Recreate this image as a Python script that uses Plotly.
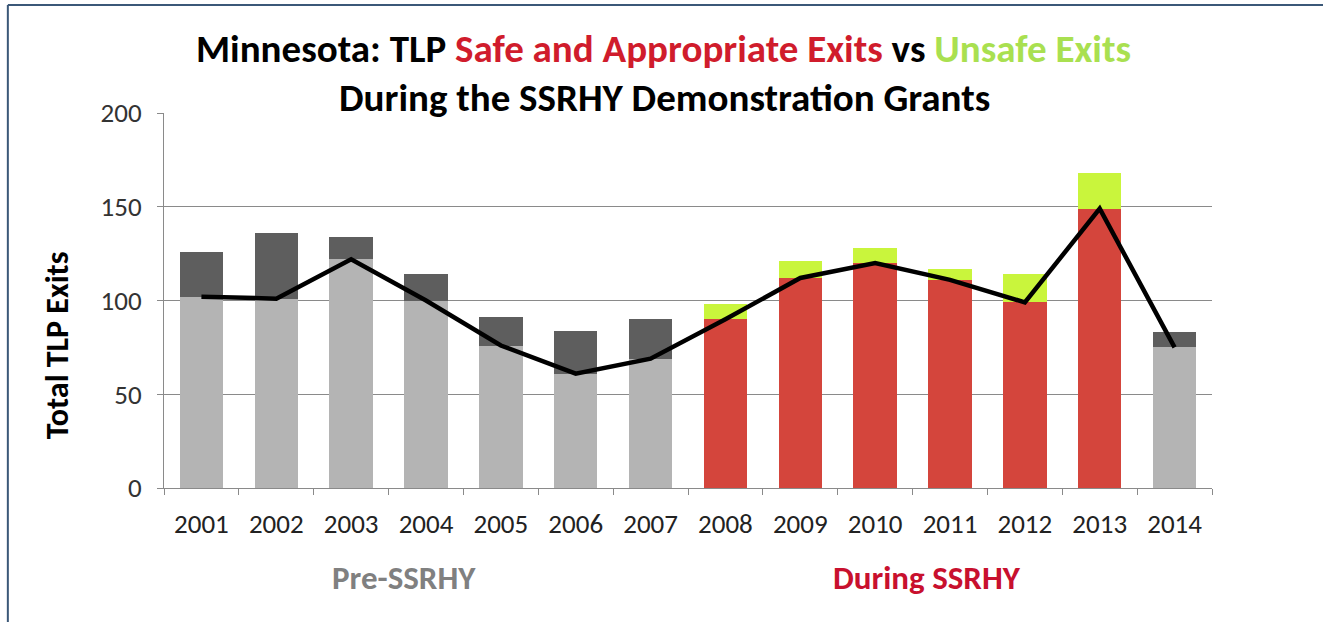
import plotly.graph_objects as go

years = ["2001", "2002", "2003", "2004", "2005", "2006", "2007",
         "2008", "2009", "2010", "2011", "2012", "2013", "2014"]
safe_exits = [102, 101, 122, 100, 76, 61, 69, 90, 112, 120, 111, 99, 149, 75]
unsafe_exits = [24, 35, 12, 14, 15, 23, 21, 8, 9, 8, 6, 15, 19, 8]
during_ssrhy = [False] * 7 + [True] * 6 + [False]

COLORS = {
    "safe_pre": "#b4b4b4",
    "unsafe_pre": "#5e5e5e",
    "safe_during": "#d4453c",
    "unsafe_during": "#c9f53c",
    "line": "#000000",
    "grid": "#8a8a8a",
    "title_red": "#d01c2c",
    "title_green": "#a9e050",
    "frame": "#3b5878",
}
FONT = "Carlito, Calibri, Liberation Sans Narrow, Arial Narrow, sans-serif"

safe_colors = [COLORS["safe_during"] if d else COLORS["safe_pre"] for d in during_ssrhy]
unsafe_colors = [COLORS["unsafe_during"] if d else COLORS["unsafe_pre"] for d in during_ssrhy]

fig = go.Figure()
fig.add_trace(go.Bar(x=years, y=safe_exits, name="Safe and Appropriate Exits",
                     marker=dict(color=safe_colors, line_width=0)))
fig.add_trace(go.Bar(x=years, y=unsafe_exits, name="Unsafe Exits",
                     marker=dict(color=unsafe_colors, line_width=0)))
fig.add_trace(go.Scatter(x=years, y=safe_exits, mode="lines", name="Safe exits",
                         line=dict(color=COLORS["line"], width=4.5)))

# title (two lines, coloured words)
fig.add_annotation(
    x=0.477, y=1.173, xref="paper", yref="paper", showarrow=False,
    xanchor="center", yanchor="middle",
    text=("<b>Minnesota: TLP <span style='color:%s'>Safe and Appropriate Exits</span> vs "
          "<span style='color:%s'>Unsafe Exits</span></b>") % (COLORS["title_red"], COLORS["title_green"]),
    font=dict(family=FONT, size=39, color="#000000"),
)
fig.add_annotation(
    x=0.478, y=1.04, xref="paper", yref="paper", showarrow=False,
    xanchor="center", yanchor="middle",
    text="<b>During the SSRHY Demonstration Grants</b>",
    font=dict(family=FONT, size=39, color="#000000"),
)
# y axis title, placed lower than the plot centre as in the original
fig.add_annotation(
    x=-0.102, y=0.381, xref="paper", yref="paper", showarrow=False,
    xanchor="center", yanchor="middle", textangle=-90,
    text="<b>Total TLP Exits</b>",
    font=dict(family=FONT, size=32, color="#000000"),
)
# period labels
fig.add_annotation(x=0.229, y=-0.24, xref="paper", yref="paper", showarrow=False,
                   xanchor="center", yanchor="middle",
                   text="<b>Pre-SSRHY</b>", font=dict(family=FONT, size=33, color="#808080"))
fig.add_annotation(x=0.728, y=-0.24, xref="paper", yref="paper", showarrow=False,
                   xanchor="center", yanchor="middle",
                   text="<b>During SSRHY</b>", font=dict(family=FONT, size=33, color="#c8102e"))

# frame lines (top and left)
fig.add_shape(type="line", xref="paper", yref="paper", x0=-0.149, x1=1.11, y0=1.288, y1=1.288,
              line=dict(color=COLORS["frame"], width=2))
fig.add_shape(type="line", xref="paper", yref="paper", x0=-0.149, x1=-0.149, y0=1.288, y1=-0.36,
              line=dict(color=COLORS["frame"], width=2))

fig.update_layout(
    width=1323,
    height=622,
    margin=dict(l=164, r=111, t=113, b=134),
    paper_bgcolor="#ffffff",
    plot_bgcolor="#ffffff",
    barmode="stack",
    bargap=0.42,
    showlegend=False,
    font=dict(family=FONT, color="#000000"),
    xaxis=dict(
        type="category",
        showline=True, linecolor=COLORS["grid"], linewidth=1,
        ticks="outside", tickson="boundaries", ticklen=6, tickcolor=COLORS["grid"],
        tickfont=dict(size=27, family=FONT, color="#222222"), showgrid=False,
        ticklabelstandoff=12,
    ),
    yaxis=dict(
        range=[0, 200], tickvals=[0, 50, 100, 150, 200],
        showline=True, linecolor=COLORS["grid"], linewidth=1,
        ticks="outside", ticklen=6, tickcolor=COLORS["grid"],
        gridcolor=COLORS["grid"], gridwidth=1, zeroline=False,
        tickfont=dict(size=27, family=FONT, color="#333333"),
        ticklabelstandoff=10,
    ),
)

fig.write_html("out.html", config={"displayModeBar": False},
               post_script="document.body.style.margin='0';")
